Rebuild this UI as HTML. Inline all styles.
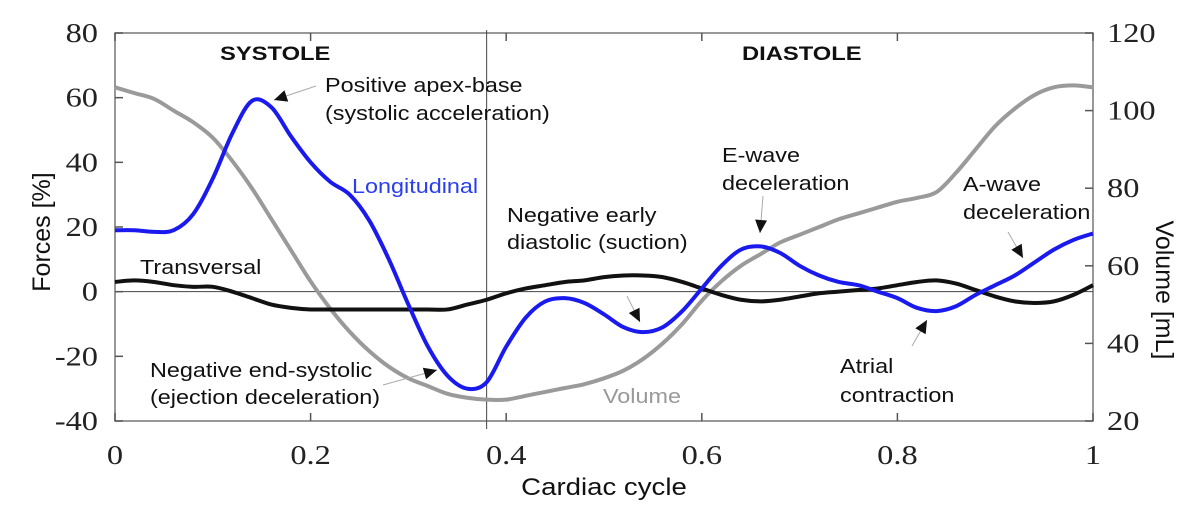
<!DOCTYPE html>
<html><head><meta charset="utf-8">
<style>
body{margin:0;background:#fff;}
svg{display:block;}
.tk{font-family:"Liberation Serif",serif;font-size:27px;fill:#222;}
.lb{font-family:"Liberation Sans",sans-serif;font-size:20px;fill:#111;}
.hd{font-family:"Liberation Sans",sans-serif;font-size:19px;font-weight:bold;fill:#111;}
</style></head>
<body>
<svg id="chart" width="1195" height="515" viewBox="0 0 1195 515">
<g id="grid"></g>
<g id="series"></g>
<g id="annot"></g>
</svg>
<script>
const xs = [0,0.02,0.04,0.06,0.08,0.1,0.12,0.14,0.16,0.18,0.2,0.22,0.24,0.26,0.28,0.3,0.32,0.34,0.36,0.38,0.4,0.42,0.44,0.46,0.48,0.5,0.52,0.54,0.56,0.58,0.6,0.62,0.64,0.66,0.68,0.7,0.72,0.74,0.76,0.78,0.8,0.82,0.84,0.86,0.88,0.9,0.92,0.94,0.96,0.98,1];
const longitudinal = [19,19,18.5,19,24,35,49,59,57,48,40,34,30,22,10,-4,-17,-26,-30,-28,-17,-8,-3,-2,-3.5,-7,-11,-12.5,-11,-6,1,8,13,14,12,8,5,3,2,0,-2,-5,-6,-4.5,-1,2,5,9,13,16,18];
const transversal = [3,3.5,3,2,1.5,1.5,0,-2,-4,-5,-5.5,-5.5,-5.5,-5.5,-5.5,-5.5,-5.5,-5.5,-4,-2.5,-0.5,1,2,3,3.5,4.5,5,5,4.5,3,1,-1,-2.5,-3,-2.5,-1.5,-0.5,0,0.5,1,2,3,3.5,2.5,0.5,-1.5,-3,-3.5,-3,-1,2];
const volume = [106,104.5,103,100,97,93,87,80,72,64,56,49,43,38,34,31,29,27,26,25.5,25.5,26.5,27.5,28.5,29.5,31,33,36,40,45,51,56,60,63,66,68,70,72,73.5,75,76.5,77.5,79,84,90,96,100.5,104,106,106.5,106];
const xTicks = [0,0.2,0.4,0.6,0.8,1];
const xTickLabels = ["0","0.2","0.4","0.6","0.8","1"];
const yTicks = [-40,-20,0,20,40,60,80];
const y2Ticks = [20,40,60,80,100,120];

const L=115,R=1093,T=33,B=421;
const sx=v=>L+v*(R-L);
const sy=v=>B-(v+40)/120*(B-T);
const sy2=v=>B-(v-20)/100*(B-T);
const NS="http://www.w3.org/2000/svg";
function mk(tag,attrs,parent,text){const e=document.createElementNS(NS,tag);for(const k in attrs)e.setAttribute(k,attrs[k]);if(text!==undefined)e.textContent=text;parent.appendChild(e);return e;}
function tx(x,y,s,attrs,parent,text){attrs.x=0;attrs.y=0;attrs.transform=`translate(${x},${y}) scale(${s},1)`;return mk('text',attrs,parent,text);}
const grid=document.getElementById('grid'),ser=document.getElementById('series'),an=document.getElementById('annot');

let fr=mk('rect',{x:L,y:T,width:R-L,height:B-T,fill:'none',stroke:'#777','stroke-width':1.5},grid);


let zl=mk('line',{x1:L,x2:R,y1:sy(0),y2:sy(0),stroke:'#444','stroke-width':1},grid);


let vl=mk('line',{x1:sx(0.38),x2:sx(0.38),y1:T-3,y2:B+8,stroke:'#444','stroke-width':1},grid);



xTicks.forEach((t,i)=>{
  mk('line',{x1:sx(t),x2:sx(t),y1:B,y2:B-8,stroke:'#555','stroke-width':1.5},grid);
  mk('line',{x1:sx(t),x2:sx(t),y1:T,y2:T+8,stroke:'#555','stroke-width':1.5},grid);
  let e=tx(sx(t),B+43,1.2,{'text-anchor':'middle',class:'tk'},grid,xTickLabels[i]);
  
  
});
yTicks.forEach(t=>{
  mk('line',{x1:L,x2:L+8,y1:sy(t),y2:sy(t),stroke:'#555','stroke-width':1.5},grid);
  let e=tx(L-17,sy(t)+9,1.2,{'text-anchor':'end',class:'tk'},grid,String(t));
  
  
});
y2Ticks.forEach(t=>{
  mk('line',{x1:R,x2:R-8,y1:sy2(t),y2:sy2(t),stroke:'#555','stroke-width':1.5},grid);
  let e=tx(R+14,sy2(t)+9,1.2,{'text-anchor':'start',class:'tk'},grid,String(t));
  
  
});

function path(vals,ys){
  const p=vals.map((v,i)=>[sx(xs[i]),ys(v)]);
  let d='M'+p[0][0]+','+p[0][1];
  for(let i=0;i<p.length-1;i++){
    const p0=p[Math.max(i-1,0)],p1=p[i],p2=p[i+1],p3=p[Math.min(i+2,p.length-1)];
    const c1=[p1[0]+(p2[0]-p0[0])/6,p1[1]+(p2[1]-p0[1])/6];
    const c2=[p2[0]-(p3[0]-p1[0])/6,p2[1]-(p3[1]-p1[1])/6];
    d+=`C${c1[0]},${c1[1]} ${c2[0]},${c2[1]} ${p2[0]},${p2[1]}`;
  }
  return d;
}
let pv=mk('path',{d:path(volume,sy2),fill:'none',stroke:'#9a9a9a','stroke-width':4},ser);


let pt=mk('path',{d:path(transversal,sy),fill:'none',stroke:'#111','stroke-width':4},ser);


let pl=mk('path',{d:path(longitudinal,sy),fill:'none',stroke:'#1a1aee','stroke-width':4},ser);



function lbl(x,y,t,cls,name,fill){
  const e=tx(x,y,cls==='hd'?1.25:1.17,{class:cls},an,t);
  if(fill)e.style.fill=fill;
  
  return e;}
lbl(220,60,'SYSTOLE','hd','systole-label');
lbl(742,60,'DIASTOLE','hd','diastole-label');
lbl(325,92,'Positive apex-base','lb','apex-base-annotation');
lbl(325,120,'(systolic acceleration)','lb','apex-base-annotation-2');
lbl(352,193,'Longitudinal','lb','longitudinal-label','#2a3ef0');
lbl(140,274,'Transversal','lb','transversal-label');
lbl(150,377,'Negative end-systolic','lb','end-systolic-annotation');
lbl(150,404,'(ejection deceleration)','lb','end-systolic-annotation-2');
lbl(507,222,'Negative early','lb','early-diastolic-annotation');
lbl(507,249,'diastolic (suction)','lb','early-diastolic-annotation-2');
lbl(603,403,'Volume','lb','volume-label','#999');
lbl(722,162,'E-wave','lb','e-wave-annotation');
lbl(722,190,'deceleration','lb','e-wave-annotation-2');
lbl(963,191,'A-wave','lb','a-wave-annotation');
lbl(963,219,'deceleration','lb','a-wave-annotation-2');
lbl(840,373,'Atrial','lb','atrial-annotation');
lbl(840,402,'contraction','lb','atrial-annotation-2');

function arrow(x1,y1,x2,y2,name){
  const g=mk('g',{},an);
  
  
  mk('line',{x1:x1,y1:y1,x2:x2,y2:y2,stroke:'#aaa','stroke-width':1},g);
  const a=Math.atan2(y2-y1,x2-x1),s=13,w=6;
  const bx=x2-s*Math.cos(a),by=y2-s*Math.sin(a);
  mk('polygon',{points:`${x2},${y2} ${bx-w*Math.sin(a)},${by+w*Math.cos(a)} ${bx+w*Math.sin(a)},${by-w*Math.cos(a)}`,fill:'#111'},g);
}
arrow(316,86,274,100,'apex-base-arrow');
arrow(383,385,437,370,'end-systolic-arrow');
arrow(627,296,640,322,'suction-arrow');
arrow(763,196,760,233,'e-wave-arrow');
arrow(1008,232,1023,258,'a-wave-arrow');
arrow(912,346,927,320,'atrial-arrow');

let xt=tx(604,495,1.15,{'text-anchor':'middle',class:'lb'},an,'Cardiac cycle');
xt.style.fontSize='24px';


let yt=mk('text',{x:0,y:0,'text-anchor':'middle',class:'lb',transform:'translate(50,232) rotate(-90)'},an,'Forces [%]');
yt.style.fontSize='25px';


let y2t=mk('text',{x:0,y:0,'text-anchor':'middle',class:'lb',transform:'translate(1156,290) rotate(90)'},an,'Volume [mL]');
y2t.style.fontSize='25px';


</script>
</body></html>
